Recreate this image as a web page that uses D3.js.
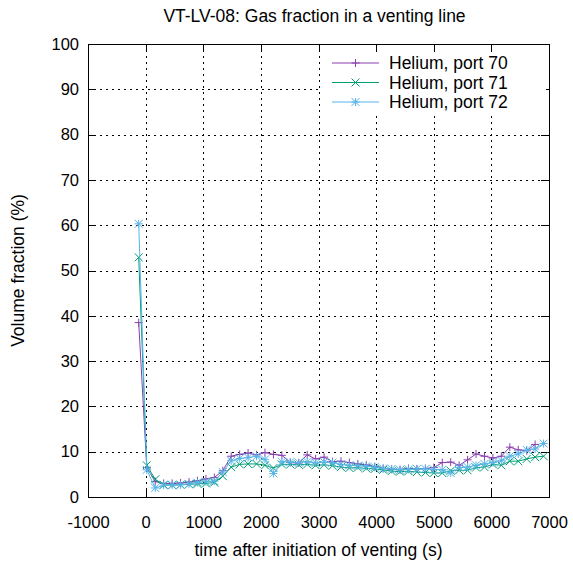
<!DOCTYPE html>
<html>
<head>
<meta charset="utf-8">
<script src="https://cdn.jsdelivr.net/npm/d3@7"></script>
<style>
  body { margin: 0; background: #fff; }
  svg { display: block; }
  text { font-family: "Liberation Sans", Arial, sans-serif; fill: #000; }
</style>
</head>
<body>
<div id="chart"></div>
<script>
// data
const times = [-120, 20, 167, 313, 460, 606, 753, 899, 1046, 1192, 1339, 1485, 1632, 1778,
  1925, 2071, 2218, 2364, 2511, 2657, 2804, 2950, 3097, 3243, 3390, 3536, 3683, 3829, 3976,
  4122, 4269, 4415, 4562, 4708, 4855, 5001, 5148, 5294, 5441, 5587, 5734, 5880, 6027, 6173,
  6320, 6466, 6613, 6759, 6906];

const port70 = [38.5, 6.5, 3.4, 3.0, 3.0, 3.1, 3.3, 3.6, 4.0, 4.3, 5.8, 9.0, 9.4, 9.7, 9.3,
  9.8, 9.4, 9.2, 7.6, 7.5, 9.3, 8.4, 8.8, 7.8, 7.9, 7.6, 7.3, 7.1, 6.7, 6.3, 6.1, 6.0, 6.3,
  6.2, 6.3, 6.5, 7.6, 7.7, 7.0, 8.2, 9.5, 9.0, 8.6, 9.0, 11.0, 10.4, 10.2, 11.6];

const port71 = [52.9, 7.0, 3.9, 2.7, 2.6, 2.7, 2.8, 2.9, 3.0, 3.2, 4.6, 6.6, 7.2, 7.3, 7.3,
  7.0, 6.4, 7.2, 7.2, 7.1, 7.2, 7.0, 7.1, 6.9, 6.6, 6.4, 6.5, 6.3, 6.2, 6.0, 5.7, 5.6, 5.7,
  5.5, 5.4, 5.3, 5.3, 5.8, 5.9, 5.9, 6.5, 6.6, 7.2, 7.0, 7.9, 7.9, 8.4, 8.8, 9.0];

const port72 = [60.3, 6.0, 2.0, 2.6, 2.7, 2.7, 2.9, 3.2, 3.4, 3.5, 5.5, 8.0, 8.5, 8.7, 9.0,
  8.3, 5.2, 7.8, 7.7, 7.6, 7.8, 7.5, 7.7, 7.6, 7.2, 7.0, 6.9, 6.8, 6.6, 6.3, 6.2, 6.0, 6.1,
  6.2, 6.2, 6.1, 6.0, 5.3, 6.5, 6.6, 7.0, 7.3, 7.6, 8.0, 9.0, 9.5, 10.4, 10.6, 11.8];

const xTicks = [-1000, 0, 1000, 2000, 3000, 4000, 5000, 6000, 7000];
const yTicks = [0, 10, 20, 30, 40, 50, 60, 70, 80, 90, 100];

const seriesNames = ["Helium, port 70", "Helium, port 71", "Helium, port 72"];
const seriesValues = [port70, port71, port72];
const colors = ["#8a3fb0", "#009e73", "#56b4e9"];
const markers = ["plus", "cross", "star"];

const width = 573, height = 562;
const plotL = 88, plotR = 549, plotT = 44, plotB = 497;

const svg = d3.select("#chart").append("svg")
  .attr("width", width)
  .attr("height", height);

const x = d3.scaleLinear().domain([-1000, 7000]).range([plotL, plotR]);
const y = d3.scaleLinear().domain([0, 100]).range([plotB, plotT]);

// grid
const grid = svg.append("g")
  .attr("stroke", "#000")
  .attr("stroke-width", 1)
  .attr("stroke-dasharray", "2,4")
  .attr("shape-rendering", "crispEdges");
grid.selectAll("line.gx")
  .data(xTicks.slice(1, -1))
  .enter().append("line")
  .attr("x1", d => Math.round(x(d)) + 0.5).attr("x2", d => Math.round(x(d)) + 0.5)
  .attr("y1", plotT).attr("y2", plotB);
grid.selectAll("line.gy")
  .data(yTicks.slice(1, -1))
  .enter().append("line")
  .attr("y1", d => Math.round(y(d)) + 0.5).attr("y2", d => Math.round(y(d)) + 0.5)
  .attr("x1", plotL).attr("x2", plotR);

// axes with inward ticks on all four sides
function styleAxis(g) {
  g.select(".domain").remove();
  g.selectAll(".tick line").attr("stroke", "#000").attr("shape-rendering", "crispEdges");
  g.selectAll("text").style("font-size", "16.5px")
    .style("font-family", '"Liberation Sans", Arial, sans-serif').attr("fill", "#000");
}

const plain = d => String(d);

svg.append("g")
  .attr("transform", `translate(0,${plotB})`)
  .call(d3.axisBottom(x).tickValues(xTicks).tickSize(-8).tickPadding(19).tickFormat(plain))
  .call(styleAxis);
svg.append("g")
  .attr("transform", `translate(0,${plotT})`)
  .call(d3.axisTop(x).tickValues(xTicks).tickSize(-8).tickFormat(""))
  .call(styleAxis);
svg.append("g")
  .attr("transform", `translate(${plotL},0)`)
  .call(d3.axisLeft(y).tickValues(yTicks).tickSize(-8).tickPadding(9).tickFormat(plain))
  .call(styleAxis);
svg.append("g")
  .attr("transform", `translate(${plotR},0)`)
  .call(d3.axisRight(y).tickValues(yTicks).tickSize(-8).tickFormat(""))
  .call(styleAxis);

// marker shapes
function markerPath(type, cx, cy) {
  const s = 4;
  if (type === "plus") {
    return `M${cx - s},${cy}H${cx + s}M${cx},${cy - s}V${cy + s}`;
  }
  if (type === "cross") {
    return `M${cx - s},${cy - s}L${cx + s},${cy + s}M${cx - s},${cy + s}L${cx + s},${cy - s}`;
  }
  return `M${cx - s},${cy}H${cx + s}M${cx},${cy - s}V${cy + s}` +
    `M${cx - s},${cy - s}L${cx + s},${cy + s}M${cx - s},${cy + s}L${cx + s},${cy - s}`;
}

const line = d3.line().x(d => x(d[0])).y(d => y(d[1]));

seriesValues.forEach((vals, k) => {
  const pts = times.map((t, i) => [t, vals[i]]);
  const g = svg.append("g");
  g.append("path")
    .datum(pts)
    .attr("d", line)
    .attr("fill", "none")
    .attr("stroke", colors[k])
    .attr("stroke-width", 1);
  g.selectAll("path.pt")
    .data(pts)
    .enter().append("path")
    .attr("class", "pt")
    .attr("d", d => markerPath(markers[k], x(d[0]), y(d[1])))
    .attr("fill", "none")
    .attr("stroke", colors[k])
    .attr("stroke-width", 1);
});

// frame
svg.append("rect")
  .attr("x", plotL + 0.5).attr("y", plotT + 0.5)
  .attr("width", plotR - plotL).attr("height", plotB - plotT)
  .attr("fill", "none").attr("stroke", "#000").attr("stroke-width", 1)
  .attr("shape-rendering", "crispEdges");

// legend (opaque key)
const legend = svg.append("g");
legend.append("rect")
  .attr("x", 322).attr("y", 52).attr("width", 224).attr("height", 60)
  .attr("fill", "#fff");
seriesNames.forEach((name, k) => {
  const ly = 63 + k * 19.5;
  legend.append("line")
    .attr("x1", 332).attr("x2", 379).attr("y1", ly).attr("y2", ly)
    .attr("stroke", colors[k]).attr("stroke-width", 1);
  legend.append("path")
    .attr("d", markerPath(markers[k], 355.5, ly))
    .attr("fill", "none").attr("stroke", colors[k]).attr("stroke-width", 1);
  legend.append("text")
    .attr("x", 389).attr("y", ly)
    .attr("dy", "0.35em")
    .style("font-size", "17.5px")
    .text(name);
});

// titles
svg.append("text")
  .attr("x", (plotL + plotR) / 2 - 4).attr("y", 22)
  .attr("text-anchor", "middle")
  .style("font-size", "17.5px")
  .text("VT-LV-08: Gas fraction in a venting line");

svg.append("text")
  .attr("x", (plotL + plotR) / 2).attr("y", 556)
  .attr("text-anchor", "middle")
  .style("font-size", "17.5px")
  .text("time after initiation of venting (s)");

svg.append("text")
  .attr("transform", `translate(24,${(plotT + plotB) / 2}) rotate(-90)`)
  .attr("text-anchor", "middle")
  .style("font-size", "17.5px")
  .text("Volume fraction (%)");
</script>
</body>
</html>
